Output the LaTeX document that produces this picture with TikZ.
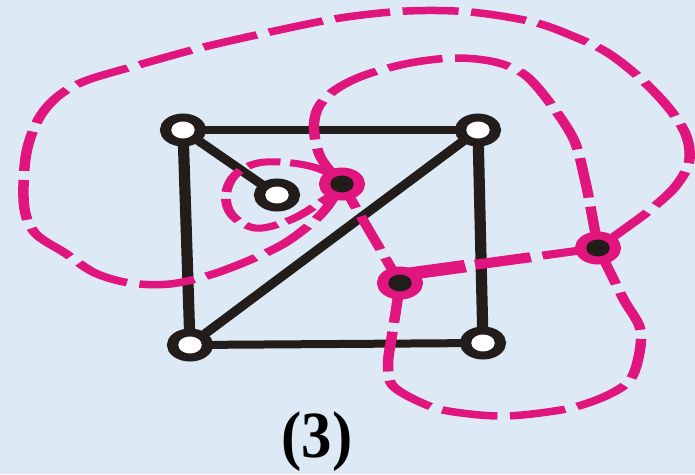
\documentclass[tikz,border=0pt]{standalone}
\usepackage{fontspec}
\setmainfont{Liberation Serif}
\usetikzlibrary{calc}
\definecolor{bg}{HTML}{DDEAF6}
\definecolor{mag}{HTML}{E0157D}
\definecolor{blk}{HTML}{221D1A}
\tikzset{
  gv/.style={circle, draw=blk, fill=white, line width=8pt, minimum size=25pt, inner sep=0pt},
  dv/.style={circle, draw=mag, fill=blk, line width=8pt, minimum size=25pt, inner sep=0pt},
  ge/.style={draw=blk, line width=8pt},
  de/.style={draw=mag, line width=7.5pt, dash pattern=on 40pt off 9pt},
  le/.style={draw=mag, line width=7pt, dash pattern=on 24pt off 7pt},
}
\begin{document}
\begin{tikzpicture}[x=1pt,y=-1pt]
\fill[bg] (0,0) rectangle (695,474);
\useasboundingbox (0,0) rectangle (695,474);
\begin{scope}[x=0.714286pt, y=-1pt, transform canvas={xscale=1.4}]
  % graph vertices
  \coordinate (TL) at (183,130);
  \coordinate (TR) at (478,130);
  \coordinate (BL) at (190,345);
  \coordinate (BR) at (483,343);
  \coordinate (IN) at (277,195);
  % dual vertices
  \coordinate (D1) at (342,184);
  \coordinate (D2) at (400,283);
  \coordinate (D3) at (598,248);
  % graph edges
  \draw[ge] (TL) -- (TR);
  \draw[ge] (TR) -- (BR);
  \draw[ge] (BR) -- (BL);
  \draw[ge] (BL) -- (TL);
  \draw[ge] (BL) -- (TR);
  \draw[ge] (TL) -- (IN);
  % dual edges
  \draw[de] plot[smooth, tension=0.55] coordinates {(D1) (321,158) (314,130) (318,108) (335,90) (365,75) (410,63) (455,58) (495,62) (525,75) (550,103) (574,140) (585,180) (592,215) (D3)};
  \draw[de] plot[smooth, tension=0.55] coordinates {(D1) (328,206) (313,222) (285,243) (250,260) (210,275) (170,284) (130,283) (95,273) (65,253) (35,233) (24,205) (26,155) (38,120) (57,97) (85,81) (135,66) (200,48) (270,32) (340,18) (407,11) (470,12) (533,22) (575,37) (608,53) (640,78) (668,107) (686,135) (689,162) (675,187) (650,210) (630,225) (D3)};
  \draw[le] plot[smooth cycle, tension=0.6] coordinates {(D1) (322,170) (292,163) (258,163) (235,175) (226,195) (232,215) (255,228) (285,222) (312,208)};
  \draw[de, dash pattern=on 36pt off 9pt, dash phase=10pt] (D1) -- (D2);
  \draw[de] plot[smooth, tension=0.55] coordinates {(D2) (396,310) (392,335) (388,365) (394,387) (432,407) (470,414) (505,416) (540,413) (575,407) (608,395) (630,380) (639,355) (640,328) (624,300) (610,272) (D3)};
  \coordinate (D2s) at ($(D2)+(0,-8)$);
  \draw[mag, line width=12.5pt] (D2s) -- ($(D2s)!0.33!(D3)$);
  \draw[mag, line width=10pt] ($(D2s)!0.38!(D3)$) -- ($(D2s)!0.66!(D3)$);
  \draw[mag, line width=8pt] ($(D2s)!0.72!(D3)$) -- (D3);
  % vertex nodes
  \node[gv] (tl) at (TL) {};
  \node[gv] (tr) at (TR) {};
  \node[gv] (bl) at (BL) {};
  \node[gv] (br) at (BR) {};
  \node[gv] (in) at (IN) {};
  \node[dv] (d1) at (D1) {};
  \node[dv] (d2) at (D2) {};
  \node[dv] (d3) at (D3) {};
\end{scope}
\node[font=\bfseries\fontsize{66}{66}\selectfont, text=black, anchor=base, xscale=0.92, inner sep=0pt] (lab) at (317,457) {(3)};
\end{tikzpicture}
\end{document}
